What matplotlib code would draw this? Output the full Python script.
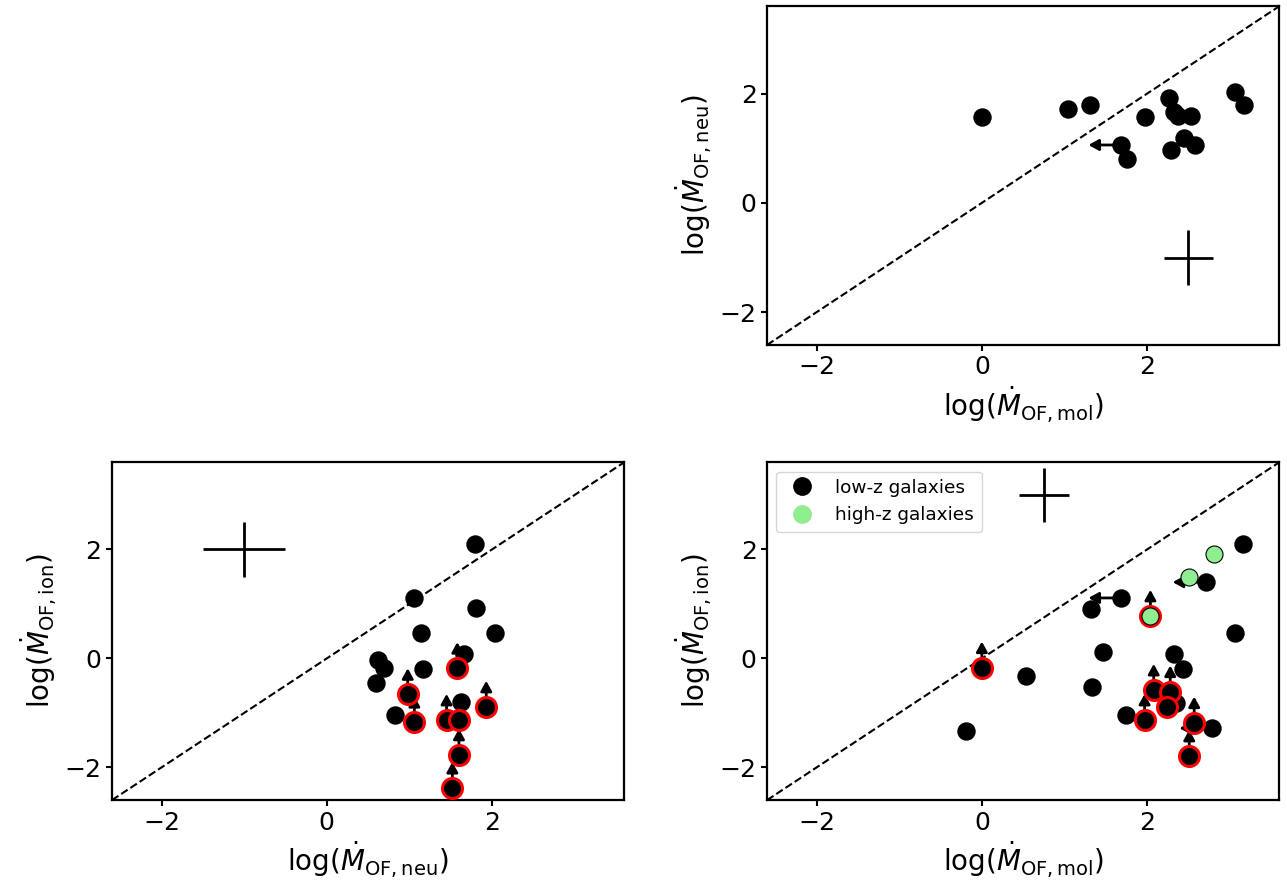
import matplotlib
matplotlib.use("Agg")
import matplotlib.pyplot as plt
from matplotlib.lines import Line2D

# --- data (log outflow rates) ---
LIM = (-2.6, 3.6)
TICKS = [-2, 0, 2]

# top right: neutral vs molecular
tr_mol = [0.00, 1.04, 1.31, 1.97, 2.26, 2.32, 2.38, 2.53, 3.06, 3.17, 1.76, 2.29, 2.45, 2.58]
tr_neu = [1.57, 1.71, 1.79, 1.57, 1.92, 1.67, 1.59, 1.59, 2.03, 1.80, 0.81, 0.97, 1.19, 1.06]
tr_mol_ul = [1.69]
tr_neu_ul = [1.06]
tr_err = dict(x=2.5, y=-1.0, xerr=0.3, yerr=0.5)

# bottom left: ionised vs neutral
bl_neu = [1.79, 1.05, 1.81, 1.14, 2.04, 1.66, 0.62, 0.69, 1.17, 0.59, 1.62, 0.82]
bl_ion = [2.10, 1.11, 0.92, 0.46, 0.46, 0.09, -0.02, -0.17, -0.19, -0.46, -0.80, -1.03]
bl_neu_ll = [1.58, 0.98, 1.93, 1.06, 1.45, 1.60, 1.60, 1.52]
bl_ion_ll = [-0.18, -0.66, -0.89, -1.17, -1.13, -1.13, -1.77, -2.38]
bl_err = dict(x=-1.0, y=2.0, xerr=0.5, yerr=0.5)

# bottom right: ionised vs molecular
br_mol = [3.16, 1.32, 3.06, 1.47, 2.32, 2.43, 0.53, 1.33, 2.35, 1.75, -0.19]
br_ion = [2.10, 0.91, 0.47, 0.12, 0.09, -0.19, -0.32, -0.52, -0.81, -1.03, -1.34]
br_mol_ul = [2.71, 1.69, 2.79]
br_ion_ul = [1.40, 1.11, -1.28]
br_mol_ll = [0.00, 2.08, 2.28, 2.24, 1.97, 2.57, 2.51, 2.04]
br_ion_ll = [-0.17, -0.58, -0.61, -0.89, -1.13, -1.18, -1.79, 0.78]
br_mol_hz = [2.04, 2.51, 2.81]
br_ion_hz = [0.78, 1.50, 1.91]
br_err = dict(x=0.75, y=3.0, xerr=0.3, yerr=0.5)

ARROW_X = 0.40   # length of upper-limit arrows (dex)
ARROW_Y = 0.48   # length of lower-limit arrows (dex)

LAB_MOL = r'log($\dot{M}_{\rm OF, mol}$)'
LAB_NEU = r'log($\dot{M}_{\rm OF, neu}$)'
LAB_ION = r'log($\dot{M}_{\rm OF, ion}$)'


def arrow(ax, x, y, dx, dy):
    ax.annotate('', xy=(x + dx, y + dy), xytext=(x, y),
                arrowprops=dict(arrowstyle='-|>,head_length=0.6,head_width=0.33',
                                lw=2, color='k', shrinkA=0, shrinkB=0,
                                mutation_scale=10),
                zorder=2)


def setup(ax, xlab, ylab, err):
    ax.plot(LIM, LIM, ls='--', color='k', lw=1.5, zorder=1)
    ax.errorbar(err['x'], err['y'], xerr=err['xerr'], yerr=err['yerr'],
                color='k', lw=2, capsize=0, zorder=2)
    ax.set_xlim(LIM)
    ax.set_ylim(LIM)
    ax.set_xticks(TICKS)
    ax.set_yticks(TICKS)
    ax.tick_params(labelsize=18, width=1.5, length=4)
    for s in ax.spines.values():
        s.set_linewidth(1.6)
    ax.set_xlabel(xlab, fontsize=20)
    ax.set_ylabel(ylab, fontsize=20)


fig = plt.figure(figsize=(12.87, 8.89), dpi=100)
ax_tr = fig.add_axes([0.596, 0.612, 0.398, 0.381])
ax_bl = fig.add_axes([0.087, 0.100, 0.398, 0.380])
ax_br = fig.add_axes([0.596, 0.100, 0.398, 0.380])

# top right
setup(ax_tr, LAB_MOL, LAB_NEU, tr_err)
ax_tr.scatter(tr_mol + tr_mol_ul, tr_neu + tr_neu_ul, s=150, c='k', zorder=3)
for x, y in zip(tr_mol_ul, tr_neu_ul):
    arrow(ax_tr, x, y, -ARROW_X, 0)

# bottom left
setup(ax_bl, LAB_NEU, LAB_ION, bl_err)
ax_bl.scatter(bl_neu, bl_ion, s=150, c='k', zorder=3)
for x, y in zip(bl_neu_ll, bl_ion_ll):
    arrow(ax_bl, x, y, 0, ARROW_Y)
ax_bl.scatter(bl_neu_ll, bl_ion_ll, s=207, c='k', edgecolors='red', linewidths=2.2, zorder=4)

# bottom right
setup(ax_br, LAB_MOL, LAB_ION, br_err)
ax_br.scatter(br_mol + br_mol_ul, br_ion + br_ion_ul, s=150, c='k', zorder=3)
for x, y in zip(br_mol_ul, br_ion_ul):
    arrow(ax_br, x, y, -ARROW_X, 0)
for x, y in zip(br_mol_ll, br_ion_ll):
    arrow(ax_br, x, y, 0, ARROW_Y)
ax_br.scatter(br_mol_ll, br_ion_ll, s=207, c='k', edgecolors='red', linewidths=2.2, zorder=4)
ax_br.scatter(br_mol_hz, br_ion_hz, s=150, c='lightgreen', edgecolors='k', linewidths=0.8, zorder=5)

handles = [Line2D([], [], ls='', marker='o', color='k', markersize=12.5),
           Line2D([], [], ls='', marker='o', color='lightgreen', markersize=12.5)]
ax_br.legend(handles, ['low-z galaxies', 'high-z galaxies'], loc='upper left', fontsize=13.3)

fig.savefig('out.png', dpi=100)
